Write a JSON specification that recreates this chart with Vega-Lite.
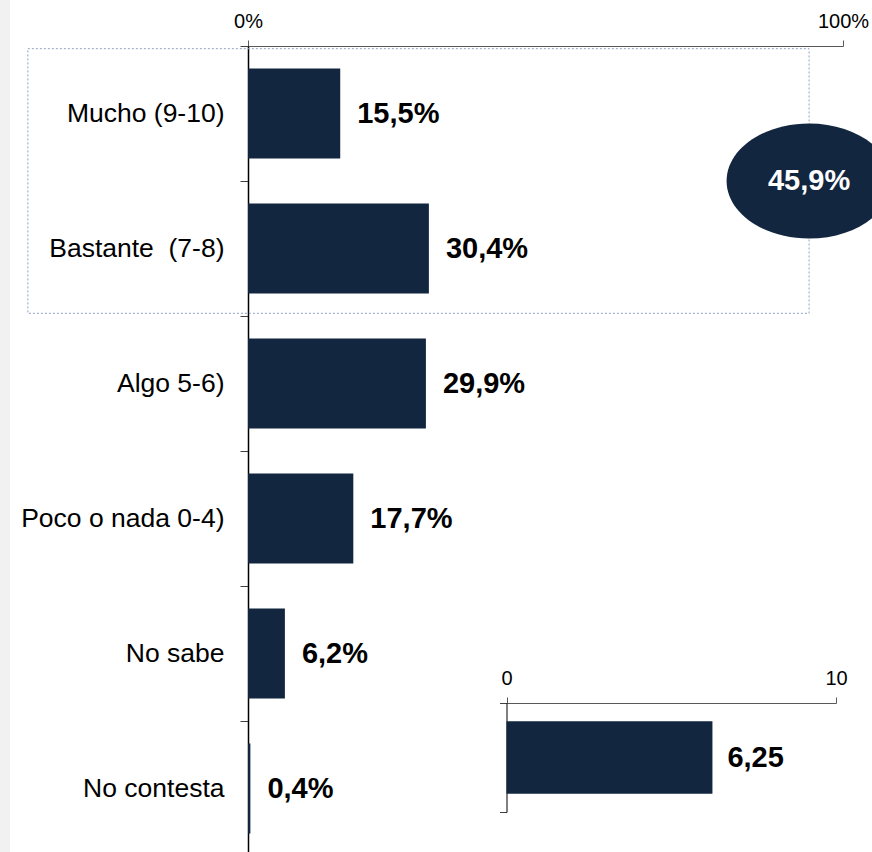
{
  "$schema": "https://vega.github.io/schema/vega-lite/v6.json",
  "width": 595,
  "height": 806,
  "autosize": {"type": "none"},
  "padding": {"left": 248, "top": 46, "right": 29, "bottom": 0},
  "background": "white",
  "config": {"view": {"stroke": null}, "font": "Liberation Sans"},
  "datasets": {
    "main": [
      {"cat": "Mucho (9-10)", "pct": 15.5, "label": "15,5%"},
      {"cat": "Bastante \u00a0(7-8)", "pct": 30.4, "label": "30,4%"},
      {"cat": "Algo 5-6)", "pct": 29.9, "label": "29,9%"},
      {"cat": "Poco o nada 0-4)", "pct": 17.7, "label": "17,7%"},
      {"cat": "No sabe", "pct": 6.2, "label": "6,2%"},
      {"cat": "No contesta", "pct": 0.4, "label": "0,4%"}
    ],
    "strip": [{"x1": -42, "x2": -40, "y1": -0.5, "y2": 6.5}],
    "box": [{"x1": -37, "x2": 94.3, "y1": 0.02, "y2": 1.98}],
    "ellipse": [{"x": 94.3, "y": 1.0, "label": "45,9%"}],
    "inset": [{"cat": "Media", "value": 6.25, "label": "6,25"}]
  },
  "layer": [
    {
      "data": {"name": "main"},
      "encoding": {
        "y": {
          "field": "cat", "type": "nominal", "sort": null,
          "scale": {"range": [0, 810], "paddingInner": 0, "paddingOuter": 0},
          "axis": {
            "orient": "left", "title": null, "labelFontSize": 26.5, "labelColor": "black",
            "labelPadding": 16, "tickSize": 8, "tickColor": "#404040", "domainColor": "black",
            "domainWidth": 1.5, "tickBand": "extent", "labelLimit": 400, "grid": false
          }
        },
        "x": {
          "field": "pct", "type": "quantitative",
          "scale": {"domain": [0, 100], "nice": false},
          "axis": {
            "orient": "top", "values": [0, 100], "labelExpr": "datum.value + '%'",
            "labelFontSize": 20, "labelColor": "black", "tickSize": 6, "tickColor": "#595959",
            "domainColor": "#595959", "grid": false, "title": null, "labelPadding": 9, "labelFlush": false
          }
        }
      },
      "layer": [
        {"mark": {"type": "bar", "color": "#13263f", "height": {"band": 0.667}}},
        {
          "mark": {"type": "text", "align": "left", "baseline": "middle", "dx": 17, "fontSize": 29, "fontWeight": "bold", "color": "black"},
          "encoding": {"text": {"field": "label"}}
        }
      ]
    },
    {
      "layer": [
        {
          "data": {"name": "strip"},
          "mark": {"type": "rect", "color": "#f1f1f1"},
          "encoding": {
            "x": {"field": "x1", "type": "quantitative", "scale": {"domain": [0, 100], "nice": false, "zero": false}, "axis": null},
            "x2": {"field": "x2"},
            "y": {"field": "y1", "type": "quantitative", "scale": {"domain": [0, 6], "range": [0, 810], "nice": false}, "axis": null},
            "y2": {"field": "y2"}
          }
        },
        {
          "data": {"name": "box"},
          "mark": {"type": "rect", "fill": null, "filled": false, "stroke": "#8da2c2", "strokeWidth": 1, "strokeDash": [2, 2]},
          "encoding": {
            "x": {"field": "x1", "type": "quantitative", "axis": null},
            "x2": {"field": "x2"},
            "y": {"field": "y1", "type": "quantitative", "axis": null},
            "y2": {"field": "y2"}
          }
        },
        {
          "data": {"name": "ellipse"},
          "mark": {"type": "point", "filled": true, "opacity": 1, "color": "#13263f", "size": 27225, "shape": "M-1,0A1,0.697,0,1,0,1,0A1,0.697,0,1,0,-1,0Z"},
          "encoding": {
            "x": {"field": "x", "type": "quantitative", "axis": null},
            "y": {"field": "y", "type": "quantitative", "axis": null}
          }
        },
        {
          "data": {"name": "ellipse"},
          "mark": {"type": "text", "align": "center", "baseline": "middle", "fontSize": 29, "fontWeight": "bold", "color": "white"},
          "encoding": {
            "x": {"field": "x", "type": "quantitative", "axis": null},
            "y": {"field": "y", "type": "quantitative", "axis": null},
            "text": {"field": "label"}
          }
        }
      ]
    },
    {
      "data": {"name": "inset"},
      "encoding": {
        "y": {
          "field": "cat", "type": "nominal",
          "scale": {"range": [657, 766], "paddingInner": 0, "paddingOuter": 0},
          "axis": {
            "orient": "left", "offset": -258.5, "labels": false, "title": null, "tickSize": 7,
            "tickColor": "#404040", "domainColor": "black", "tickBand": "extent", "grid": false
          }
        },
        "x": {
          "field": "value", "type": "quantitative",
          "scale": {"domain": [0, 10], "nice": false, "range": [258.5, 588]},
          "axis": {
            "orient": "top", "offset": -657, "values": [0, 10], "labelFontSize": 20, "labelColor": "black",
            "tickSize": 6, "tickColor": "#595959", "domainColor": "#595959", "grid": false, "title": null,
            "labelPadding": 9, "labelFlush": false
          }
        }
      },
      "layer": [
        {"mark": {"type": "bar", "color": "#13263f", "height": {"band": 0.667}}},
        {
          "mark": {"type": "text", "align": "left", "baseline": "middle", "dx": 15, "fontSize": 29, "fontWeight": "bold", "color": "black"},
          "encoding": {"text": {"field": "label"}}
        }
      ]
    }
  ],
  "resolve": {
    "scale": {"x": "independent", "y": "independent"},
    "axis": {"x": "independent", "y": "independent"}
  }
}
